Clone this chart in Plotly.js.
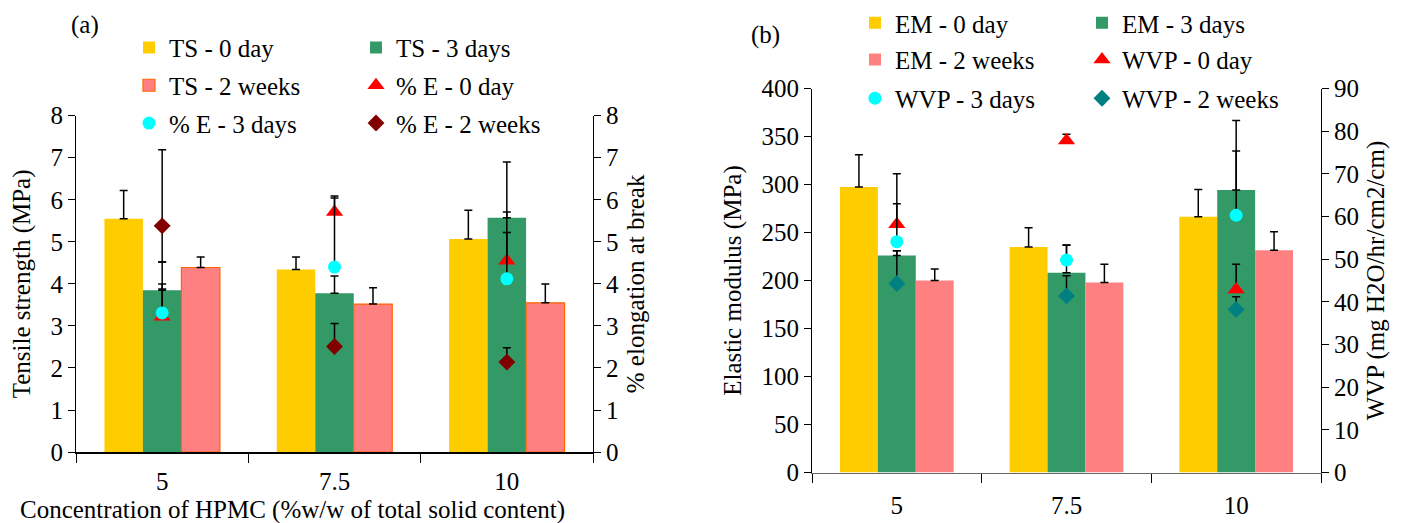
<!DOCTYPE html>
<html>
<head>
<meta charset="utf-8">
<script src="https://cdn.plot.ly/plotly-3.0.1.min.js"></script>
<style>html,body{margin:0;padding:0;background:#fff;}#chart{width:1411px;height:523px;}</style>
</head>
<body>
<div id="chart"></div>
<script>
// ---------- data ----------
const categories = ['5', '7.5', '10'];

// Panel (a): tensile strength (MPa) bars, % elongation markers
const ts0 = [5.55, 4.34, 5.07];
const ts0Err = [0.67, 0.30, 0.68];
const ts3 = [3.85, 3.78, 5.57];
const ts3Err = [0.67, 0.41, 1.33];
const ts2w = [4.39, 3.52, 3.55];
const ts2wErr = [0.25, 0.39, 0.45];
const e0 = [3.22, 5.71, 4.55];
const e0Err = [0.66, 0.38, 0.67];
const e3 = [3.31, 4.40, 4.12];
const e3Err = [0.69, 1.64, 1.59];
const e2w = [5.38, 2.51, 2.14];
const e2wErr = [1.81, 0.55, 0.34];
const e2wErrMinus = [0.86, 0, 0];

// Panel (b): elastic modulus (MPa) bars, WVP markers
const em0 = [297.5, 235, 266.4];
const em0Err = [33.5, 20, 28.3];
const em3 = [226, 208, 294.4];
const em3Err = [5, 29, 40.6];
const em2w = [200, 198, 231.6];
const em2wErr = [12, 19, 19.3];
const wvp0 = [58.2, 77.8, 42.9];
const wvp0Err = [4.8, 1.5, 5.9];
const wvp3 = [54.1, 49.8, 60.3];
const wvp3Err = [15.9, 3.5, 22.2];
const wvp2w = [44.3, 41.4, 38.2];
const wvp2wErr = [7.7, 4.7, 3.0];

// ---------- styles ----------
const FONT = 'Liberation Serif, Times New Roman, serif';
const FS = 25;
const YELLOW = '#FFCC00', GREEN = '#339966', PINK = '#FF8080';
const errStyle = (plus, minus) => ({
  type: 'data', symmetric: false, array: plus,
  arrayminus: minus || plus.map(() => 0),
  color: '#000', thickness: 1.5, width: 4
});

function bar(name, y, err, color, xa, ya, legend, line) {
  return {
    type: 'bar', name, x: categories, y, xaxis: xa, yaxis: ya, legend,
    marker: {color, line: line || {width: 0}},
    error_y: errStyle(err), offsetgroup: name
  };
}
function pts(name, y, err, symbol, color, size, xa, ya, legend, minus) {
  return {
    type: 'scatter', mode: 'markers', name, x: categories, y, xaxis: xa, yaxis: ya, legend,
    marker: {symbol, color, size, line: {width: 0}},
    error_y: errStyle(err, minus), cliponaxis: false
  };
}

const traces = [
  bar('TS - 0 day', ts0, ts0Err, YELLOW, 'x', 'y', 'legend'),
  bar('TS - 3 days', ts3, ts3Err, GREEN, 'x', 'y', 'legend'),
  bar('TS - 2 weeks', ts2w, ts2wErr, PINK, 'x', 'y', 'legend2', {width: 1.2, color: '#FF6600'}),
  pts('% E - 0 day', e0, e0Err, 'triangle-up', '#FF0000', 15, 'x', 'y2', 'legend2'),
  pts('% E - 3 days', e3, e3Err, 'circle', '#00FFFF', 13, 'x', 'y2', 'legend3'),
  pts('% E - 2 weeks', e2w, e2wErr, 'diamond', '#800000', 13, 'x', 'y2', 'legend3', e2wErrMinus),

  bar('EM - 0 day', em0, em0Err, YELLOW, 'x2', 'y3', 'legend4'),
  bar('EM - 3 days', em3, em3Err, GREEN, 'x2', 'y3', 'legend4'),
  bar('EM - 2 weeks', em2w, em2wErr, PINK, 'x2', 'y3', 'legend5'),
  pts('WVP - 0 day', wvp0, wvp0Err, 'triangle-up', '#FF0000', 15, 'x2', 'y4', 'legend5'),
  pts('WVP - 3 days', wvp3, wvp3Err, 'circle', '#00FFFF', 13, 'x2', 'y4', 'legend6'),
  pts('WVP - 2 weeks', wvp2w, wvp2wErr, 'diamond', '#008080', 13, 'x2', 'y4', 'legend6')
];

const W = 1411, H = 523;
const px = v => v / W, py = v => 1 - v / H;

const yCommon = {
  showgrid: false, zeroline: false, showline: true, linecolor: '#000', linewidth: 1,
  ticks: 'outside', ticklen: 7, tickcolor: '#000', tickwidth: 1,
  tickfont: {family: FONT, size: FS, color: '#000'}
};
const xCommon = {
  type: 'category', showgrid: false, zeroline: false, showline: true, linewidth: 1.5,
  ticks: 'outside', ticklen: 9, tickcolor: '#000', tickson: 'boundaries',
  tickfont: {family: FONT, size: FS, color: '#000'}, fixedrange: true
};
const legCommon = (x, y, ew) => ({
  orientation: 'h', x: px(x), y: py(y), xanchor: 'left', yanchor: 'middle',
  entrywidth: ew, entrywidthmode: 'pixels', bgcolor: 'rgba(0,0,0,0)',
  font: {family: FONT, size: FS, color: '#000'}, traceorder: 'normal',
  itemclick: false, itemdoubleclick: false
});

const layout = {
  width: W, height: H,
  margin: {l: 0, r: 0, t: 0, b: 0},
  paper_bgcolor: '#fff', plot_bgcolor: 'rgba(0,0,0,0)',
  barmode: 'group', bargap: 0.33, bargroupgap: 0,
  font: {family: FONT, size: FS, color: '#000'},
  showlegend: true,
  xaxis: Object.assign({}, xCommon, {domain: [px(76), px(593)], anchor: 'y', linecolor: '#000', ticklabelstandoff: 6}),
  yaxis: Object.assign({}, yCommon, {domain: [py(451.7), py(113.3)], anchor: 'x', range: [0, 8], dtick: 1,
    title: {text: 'Tensile strength (MPa)', font: {family: FONT, size: FS}, standoff: 12}}),
  yaxis2: Object.assign({}, yCommon, {overlaying: 'y', side: 'right', anchor: 'x', range: [0, 8], dtick: 1,
    title: {text: '% elongation at break', font: {family: FONT, size: FS}, standoff: 8}}),
  xaxis2: Object.assign({}, xCommon, {domain: [px(812), px(1321)], anchor: 'y3', linecolor: '#666', ticklabelstandoff: 10}),
  yaxis3: Object.assign({}, yCommon, {domain: [py(472.3), py(86)], anchor: 'x2', range: [0, 400], dtick: 50,
    title: {text: 'Elastic modulus (MPa)', font: {family: FONT, size: FS}, standoff: 12}}),
  yaxis4: Object.assign({}, yCommon, {overlaying: 'y3', side: 'right', anchor: 'x2', range: [0, 90], dtick: 10,
    title: {text: 'WVP (mg H2O/hr/cm2/cm)', font: {family: FONT, size: FS}, standoff: 8}}),
  legend: legCommon(129, 45, 182),
  legend2: legCommon(129, 83, 182),
  legend3: legCommon(129, 121, 182),
  legend4: legCommon(855, 20, 182),
  legend5: legCommon(855, 57, 182),
  legend6: legCommon(855, 96, 182),
  annotations: [
    {text: '(a)', xref: 'paper', yref: 'paper', x: px(85), y: py(22), showarrow: false,
      xanchor: 'center', yanchor: 'middle', font: {family: FONT, size: FS, color: '#000'}},
    {text: '(b)', xref: 'paper', yref: 'paper', x: px(765), y: py(32), showarrow: false,
      xanchor: 'center', yanchor: 'middle', font: {family: FONT, size: FS, color: '#000'}},
    {text: 'Concentration of HPMC (%w/w of total solid content)', xref: 'paper', yref: 'paper',
      x: px(292), y: py(510), showarrow: false, xanchor: 'center', yanchor: 'middle',
      font: {family: FONT, size: FS, color: '#000'}}
  ]
};

Plotly.newPlot('chart', traces, layout, {staticPlot: true, displayModeBar: false});
</script>
</body>
</html>
